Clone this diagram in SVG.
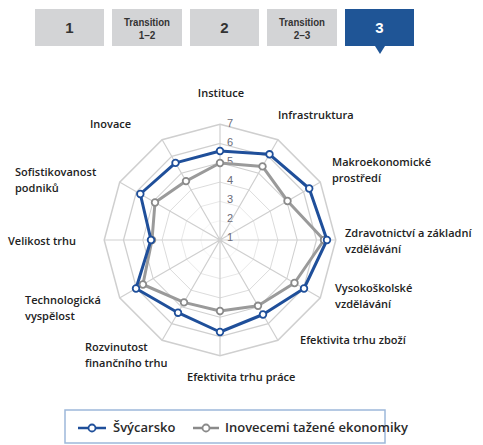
<svg xmlns="http://www.w3.org/2000/svg" xmlns:xlink="http://www.w3.org/1999/xlink" width="483" height="445" viewBox="0 0 483 445">
<style>
.tab{fill:#d3d4d6}
.tabn{font-family:"Liberation Sans",Arial,sans-serif;font-weight:bold;font-size:15px;fill:#333;text-anchor:middle}
.tabt{font-family:"Liberation Sans",Arial,sans-serif;font-weight:bold;font-size:10px;fill:#333;text-anchor:middle}
.ring{fill:none;stroke:#cfcfcf;stroke-width:1.3;vector-effect:non-scaling-stroke}
.spoke{fill:none;stroke:#cfcfcf;stroke-width:1.2}
.scale{font-family:"Liberation Sans",Arial,sans-serif;font-size:11px;fill:#6b6b78;text-anchor:middle}
.lbl{font-family:"Open Sans",sans-serif;font-weight:600;font-size:11px;fill:#222}
.blue{fill:none;stroke:#1f4f9a;stroke-width:3;stroke-linejoin:round}
.gray{fill:none;stroke:#9a9a9a;stroke-width:3;stroke-linejoin:round}
.leg{font-family:"Open Sans",sans-serif;font-weight:600;font-size:13px;fill:#2a2a2a}
</style>
<defs>
<polygon id="ring" points="0,-100 50,-86.6 86.6,-50 100,0 86.6,50 50,86.6 0,100 -50,86.6 -86.6,50 -100,0 -86.6,-50 -50,-86.6"/>
<marker id="mb" markerUnits="userSpaceOnUse" markerWidth="10" markerHeight="10" refX="5" refY="5" viewBox="0 0 10 10"><circle cx="5" cy="5" r="3.3" fill="#fff" stroke="#1f4f9a" stroke-width="1.8"/></marker>
<marker id="mg" markerUnits="userSpaceOnUse" markerWidth="10" markerHeight="10" refX="5" refY="5" viewBox="0 0 10 10"><circle cx="5" cy="5" r="3.3" fill="#fff" stroke="#8a8a8a" stroke-width="1.8"/></marker>
</defs>

<g id="tabs">
<g id="tab1"><rect class="tab" x="35" y="9" width="69" height="37"/><text class="tabn" x="69.5" y="33">1</text></g>
<g id="tab12"><rect class="tab" x="112" y="9" width="70" height="37"/><text class="tabt" x="147" y="26" textLength="46" lengthAdjust="spacingAndGlyphs">Transition</text><text class="tabt" x="147" y="39">1–2</text></g>
<g id="tab2"><rect class="tab" x="190" y="9" width="69" height="37"/><text class="tabn" x="224.5" y="33">2</text></g>
<g id="tab23"><rect class="tab" x="267" y="9" width="70" height="37"/><text class="tabt" x="302" y="26" textLength="46" lengthAdjust="spacingAndGlyphs">Transition</text><text class="tabt" x="302" y="39">2–3</text></g>
<g id="tab3"><path d="M345,9 H414 V46 H385 L380,54 L375,46 H345 Z" fill="#1f5596"/><text class="tabn" x="379.5" y="33" style="fill:#fff">3</text></g>
</g>

<g id="grid" transform="translate(220,240)">
<use xlink:href="#ring" class="ring" transform="scale(0.193)"/>
<use xlink:href="#ring" class="ring" transform="scale(0.386)"/>
<use xlink:href="#ring" class="ring" transform="scale(0.579)"/>
<use xlink:href="#ring" class="ring" transform="scale(0.772)"/>
<use xlink:href="#ring" class="ring" transform="scale(0.965)"/>
<use xlink:href="#ring" class="ring" transform="scale(1.158)"/>
<path class="spoke" d="M0,0 L0,-116 M0,0 L58,-100.5 M0,0 L100.5,-58 M0,0 L116,0 M0,0 L100.5,58 M0,0 L58,100.5 M0,0 L0,116 M0,0 L-58,100.5 M0,0 L-100.5,58 M0,0 L-116,0 M0,0 L-100.5,-58 M0,0 L-58,-100.5"/>
</g>

<g id="scale">
<text class="scale" x="230" y="127">7</text>
<text class="scale" x="230" y="146">6</text>
<text class="scale" x="230" y="165">5</text>
<text class="scale" x="230" y="184">4</text>
<text class="scale" x="230" y="203">3</text>
<text class="scale" x="230" y="222">2</text>
<text class="scale" x="230" y="241">1</text>
</g>

<g id="series">
<polygon id="series-gray" class="gray" marker-start="url(#mg)" marker-mid="url(#mg)" points="220,163 262.5,166.4 287.5,201 324,240 294.5,283 258,305.8 220,311 184,302.4 142.9,284.5 152,240 155,202.5 186,181.1"/>
<polygon id="series-blue" class="blue" marker-start="url(#mb)" marker-mid="url(#mb)" points="220,151 269.5,154.3 309.2,188.5 327,240 304,288.5 263,314.5 220,332 178,312.7 136,288.5 151,240 140.3,194 175.5,162.9"/>
</g>

<g id="labels">
<text class="lbl" x="221" y="97" text-anchor="middle">Instituce</text>
<text class="lbl" x="278" y="119">Infrastruktura</text>
<text class="lbl" x="332" y="166">Makroekonomické</text>
<text class="lbl" x="332" y="182">prostředí</text>
<text class="lbl" x="345" y="237">Zdravotnictví a základní</text>
<text class="lbl" x="345" y="253">vzdělávání</text>
<text class="lbl" x="335" y="292">Vysokoškolské</text>
<text class="lbl" x="335" y="308">vzdělávání</text>
<text class="lbl" x="300" y="344">Efektivita trhu zboží</text>
<text class="lbl" x="187" y="381">Efektivita trhu práce</text>
<text class="lbl" x="85" y="351">Rozvinutost</text>
<text class="lbl" x="85" y="367">finančního trhu</text>
<text class="lbl" x="25" y="304">Technologická</text>
<text class="lbl" x="25" y="320">vyspělost</text>
<text class="lbl" x="8" y="245">Velikost trhu</text>
<text class="lbl" x="15" y="176">Sofistikovanost</text>
<text class="lbl" x="15" y="192">podniků</text>
<text class="lbl" x="90" y="128">Inovace</text>
</g>

<g id="legend">
<rect x="65" y="410" width="320" height="33" fill="none" stroke="#9db8da" stroke-width="1.5"/>
<line x1="78" y1="428" x2="106" y2="428" stroke="#1f4f9a" stroke-width="2.5"/>
<circle cx="92" cy="428" r="3.5" fill="#fff" stroke="#1f4f9a" stroke-width="1.8"/>
<text class="leg" x="113" y="432">Švýcarsko</text>
<line x1="193" y1="428" x2="219" y2="428" stroke="#8a8a8a" stroke-width="2.5"/>
<circle cx="206" cy="428" r="3.5" fill="#fff" stroke="#8a8a8a" stroke-width="1.8"/>
<text class="leg" x="225" y="432">Inovecemi tažené ekonomiky</text>
</g>
</svg>
